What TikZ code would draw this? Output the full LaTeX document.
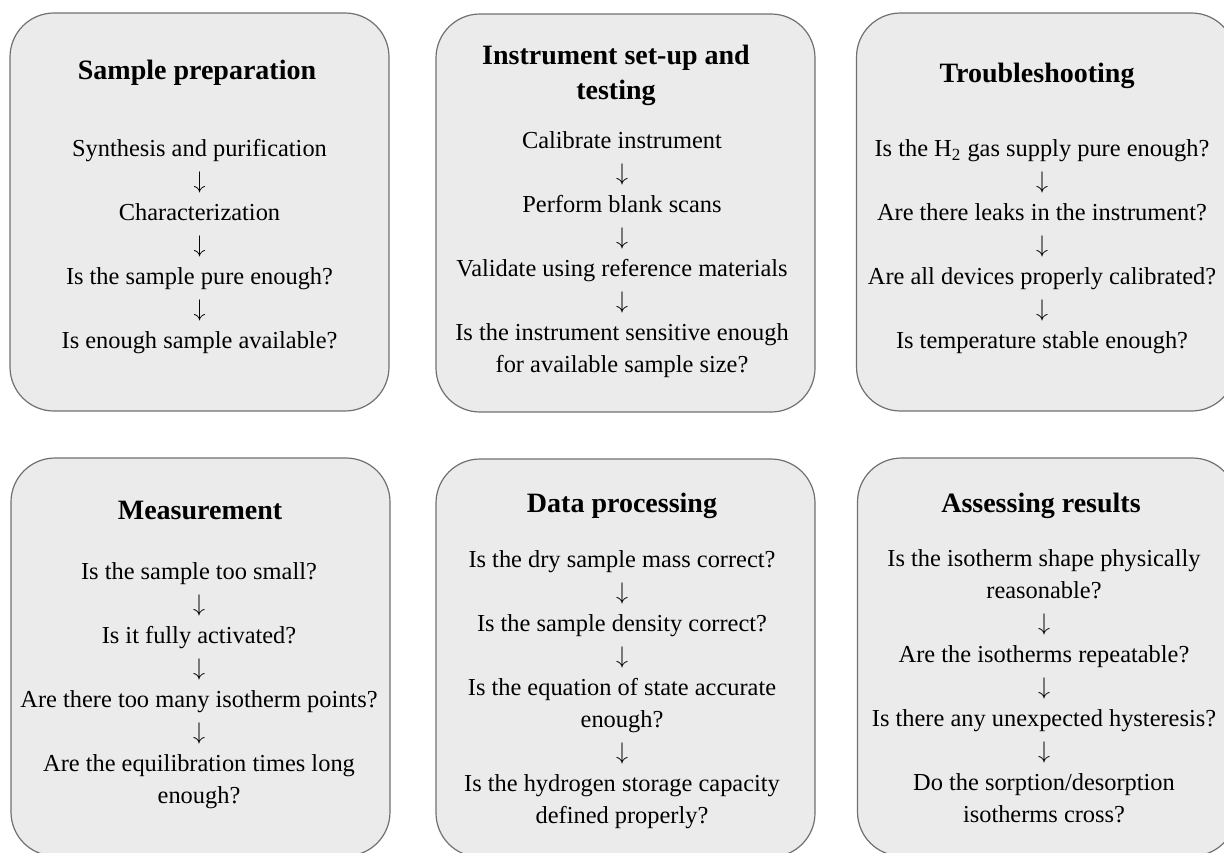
\documentclass[tikz,border=0pt]{standalone}
\usepackage{fontspec}
\setmainfont{Liberation Serif}
\usepackage{xcolor}
\definecolor{panel-fill}{HTML}{EBEBEB}
\definecolor{panel-line}{HTML}{707070}
\newcommand{\stepdown}{$\downarrow$}

\begin{document}
\begin{tikzpicture}[x=0.5pt, y=-0.5pt,
      panel/.style={draw=panel-line, fill=panel-fill, line width=0.6pt,
          rounded corners=22pt, minimum width=189.5pt, minimum height=199pt, inner sep=0pt},
      heading/.style={font=\fontsize{14}{17.5}\selectfont\bfseries, align=center, inner sep=0pt},
      steps/.style={font=\fontsize{12.2}{16}\selectfont, align=center, inner sep=0pt}]
    \useasboundingbox (0,0) rectangle (1224,852);
    \clip (0,0) rectangle (1224,852);
    % panels
    \node[panel] (prep) at (199.5,212) {};
    \node[panel] (setup) at (625.5,213) {};
    \node[panel] (trouble) at (1046,212) {};
    \node[panel] (meas) at (200.5,657) {};
    \node[panel] (proc) at (625.5,658) {};
    \node[panel] (assess) at (1047,657) {};
    % headings
    \node[heading] (prep-title) at (197,73) {Sample preparation};
    \node[heading] (setup-title) at (616,75) {Instrument set-up and\\testing};
    \node[heading] (trouble-title) at (1037,76) {Troubleshooting};
    \node[heading] (meas-title) at (200,510) {Measurement};
    \node[heading] (proc-title) at (622,506) {Data processing};
    \node[heading] (assess-title) at (1041,506) {Assessing results};
    % question chains
    \node[steps] (prep-steps) at (199.5,247) {Synthesis and purification\\\stepdown\\Characterization\\\stepdown\\Is the sample pure enough?\\\stepdown\\Is enough sample available?};
    \node[steps] (setup-steps) at (622,255) {Calibrate instrument\\\stepdown\\Perform blank scans\\\stepdown\\Validate using reference materials\\\stepdown\\Is the instrument sensitive enough\\for available sample size?};
    \node[steps] (trouble-steps) at (1042,247) {Is the H\textsubscript{2} gas supply pure enough?\\\stepdown\\Are there leaks in the instrument?\\\stepdown\\Are all devices properly calibrated?\\\stepdown\\Is temperature stable enough?};
    \node[steps] (meas-steps) at (199,686) {Is the sample too small?\\\stepdown\\Is it fully activated?\\\stepdown\\Are there too many isotherm points?\\\stepdown\\Are the equilibration times long\\enough?};
    \node[steps] (proc-steps) at (622,689.5) {Is the dry sample mass correct?\\\stepdown\\Is the sample density correct?\\\stepdown\\Is the equation of state accurate\\enough?\\\stepdown\\Is the hydrogen storage capacity\\defined properly?};
    \node[steps] (assess-steps) at (1044,686) {Is the isotherm shape physically\\reasonable?\\\stepdown\\Are the isotherms repeatable?\\\stepdown\\Is there any unexpected hysteresis?\\\stepdown\\Do the sorption/desorption\\isotherms cross?};
\end{tikzpicture}
\end{document}
